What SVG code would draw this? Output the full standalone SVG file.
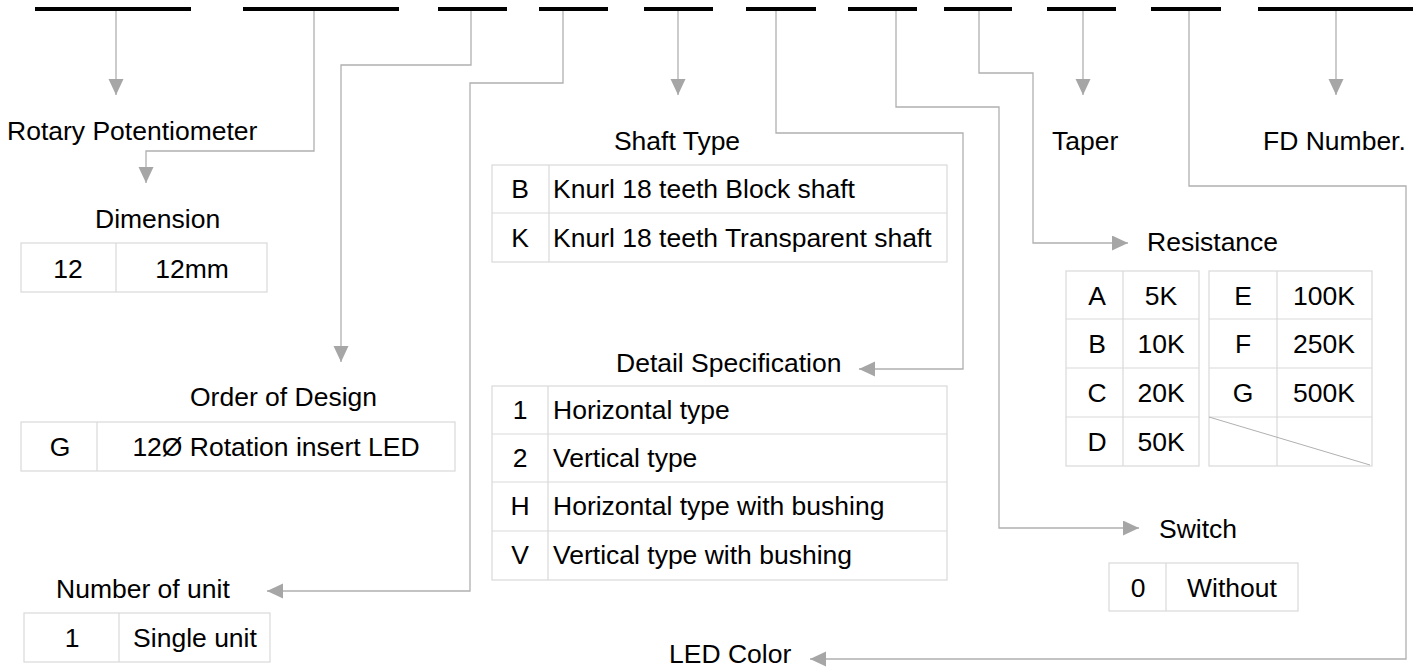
<svg xmlns="http://www.w3.org/2000/svg" width="1418" height="668" viewBox="0 0 1418 668">
<style>
text{font-family:"Liberation Sans",Arial,sans-serif;font-size:26.5px;fill:#000}
.c{text-anchor:middle}
.bar{stroke:#000;stroke-width:4;fill:none}
.cell{fill:none;stroke:#d9d9d9;stroke-width:1.2}
.con{fill:none;stroke:#b0b0b0;stroke-width:1.3}
</style>
<defs>
<marker id="ah" markerUnits="userSpaceOnUse" markerWidth="16" markerHeight="16" refX="16" refY="7.5" orient="auto">
<path d="M0,0 L16,7.5 L0,15 z" fill="#a6a6a6"/>
</marker>
</defs>
<g id="bars">
<line class="bar" x1="35" y1="9" x2="191" y2="9"/>
<line class="bar" x1="243" y1="9" x2="399" y2="9"/>
<line class="bar" x1="438" y1="9" x2="507" y2="9"/>
<line class="bar" x1="539" y1="9" x2="608" y2="9"/>
<line class="bar" x1="644" y1="9" x2="713" y2="9"/>
<line class="bar" x1="746" y1="9" x2="816" y2="9"/>
<line class="bar" x1="848" y1="9" x2="917" y2="9"/>
<line class="bar" x1="944" y1="9" x2="1012" y2="9"/>
<line class="bar" x1="1047" y1="9" x2="1116" y2="9"/>
<line class="bar" x1="1151" y1="9" x2="1221" y2="9"/>
<line class="bar" x1="1258" y1="9" x2="1413" y2="9"/>
</g>
<g id="connectors">
<path class="con" marker-end="url(#ah)" d="M116 11 V95"/>
<path class="con" marker-end="url(#ah)" d="M314 11 V151 H146 V183"/>
<path class="con" marker-end="url(#ah)" d="M471 11 V65 H341 V362"/>
<path class="con" marker-end="url(#ah)" d="M563 11 V83 H470 V591 H267"/>
<path class="con" marker-end="url(#ah)" d="M678 11 V95"/>
<path class="con" marker-end="url(#ah)" d="M776 11 V133 H963 V369 H859"/>
<path class="con" marker-end="url(#ah)" d="M896 11 V107 H999 V528 H1139"/>
<path class="con" marker-end="url(#ah)" d="M979 11 V73 H1033 V243 H1128"/>
<path class="con" marker-end="url(#ah)" d="M1083 11 V95"/>
<path class="con" marker-end="url(#ah)" d="M1189 11 V186 H1406 V659 H810"/>
<path class="con" marker-end="url(#ah)" d="M1336 11 V95"/>
</g>
<g id="rotary">
<text x="7" y="140">Rotary Potentiometer</text>
</g>
<g id="dimension">
<text x="95" y="228">Dimension</text>
<rect class="cell" x="21" y="243" width="246" height="49"/>
<line class="cell" x1="116" y1="243" x2="116" y2="292"/>
<text class="c" x="68" y="278">12</text>
<text class="c" x="192" y="278">12mm</text>
</g>
<g id="order">
<text x="190" y="406">Order of Design</text>
<rect class="cell" x="21" y="422" width="434" height="49"/>
<line class="cell" x1="97" y1="422" x2="97" y2="471"/>
<text class="c" x="60" y="456">G</text>
<text class="c" x="276" y="456">12Ø Rotation insert LED</text>
</g>
<g id="units">
<text x="56" y="598">Number of unit</text>
<rect class="cell" x="24" y="613" width="246" height="49"/>
<line class="cell" x1="119" y1="613" x2="119" y2="662"/>
<text class="c" x="72" y="647">1</text>
<text class="c" x="195" y="647">Single unit</text>
</g>
<g id="shaft">
<text class="c" x="677" y="150">Shaft Type</text>
<rect class="cell" x="492" y="165" width="455" height="97"/>
<line class="cell" x1="492" y1="213" x2="947" y2="213"/>
<line class="cell" x1="549" y1="165" x2="549" y2="262"/>
<text class="c" x="520" y="198">B</text>
<text x="553" y="198">Knurl 18 teeth Block shaft</text>
<text class="c" x="520" y="247">K</text>
<text x="553" y="247">Knurl 18 teeth Transparent shaft</text>
</g>
<g id="detail">
<text x="616" y="372">Detail Specification</text>
<rect class="cell" x="492" y="386" width="455" height="194"/>
<line class="cell" x1="492" y1="434" x2="947" y2="434"/>
<line class="cell" x1="492" y1="482" x2="947" y2="482"/>
<line class="cell" x1="492" y1="531" x2="947" y2="531"/>
<line class="cell" x1="548" y1="386" x2="548" y2="580"/>
<text class="c" x="520" y="419">1</text>
<text x="553" y="419">Horizontal type</text>
<text class="c" x="520" y="467">2</text>
<text x="553" y="467">Vertical type</text>
<text class="c" x="520" y="515">H</text>
<text x="553" y="515">Horizontal type with bushing</text>
<text class="c" x="520" y="564">V</text>
<text x="553" y="564">Vertical type with bushing</text>
</g>
<g id="led">
<text x="669" y="663">LED Color</text>
</g>
<g id="taper">
<text x="1052" y="150">Taper</text>
</g>
<g id="fd">
<text x="1263" y="150">FD Number.</text>
</g>
<g id="resistance">
<text x="1147" y="251">Resistance</text>
<rect class="cell" x="1066" y="271" width="133" height="195"/>
<line class="cell" x1="1066" y1="319" x2="1199" y2="319"/>
<line class="cell" x1="1066" y1="368" x2="1199" y2="368"/>
<line class="cell" x1="1066" y1="417" x2="1199" y2="417"/>
<line class="cell" x1="1123" y1="271" x2="1123" y2="466"/>
<rect class="cell" x="1209" y="271" width="163" height="195"/>
<line class="cell" x1="1209" y1="319" x2="1372" y2="319"/>
<line class="cell" x1="1209" y1="368" x2="1372" y2="368"/>
<line class="cell" x1="1209" y1="417" x2="1372" y2="417"/>
<line class="cell" x1="1277" y1="271" x2="1277" y2="466"/>
<line x1="1209" y1="417" x2="1370" y2="465" stroke="#b0b0b0" stroke-width="1"/>
<text class="c" x="1097" y="305">A</text>
<text class="c" x="1161" y="305">5K</text>
<text class="c" x="1243" y="305">E</text>
<text class="c" x="1324" y="305">100K</text>
<text class="c" x="1097" y="353">B</text>
<text class="c" x="1161" y="353">10K</text>
<text class="c" x="1243" y="353">F</text>
<text class="c" x="1324" y="353">250K</text>
<text class="c" x="1097" y="402">C</text>
<text class="c" x="1161" y="402">20K</text>
<text class="c" x="1243" y="402">G</text>
<text class="c" x="1324" y="402">500K</text>
<text class="c" x="1097" y="451">D</text>
<text class="c" x="1161" y="451">50K</text>
</g>
<g id="switch">
<text x="1159" y="538">Switch</text>
<rect class="cell" x="1109" y="563" width="189" height="48"/>
<line class="cell" x1="1166" y1="563" x2="1166" y2="611"/>
<text class="c" x="1138" y="597">0</text>
<text class="c" x="1232" y="597">Without</text>
</g>
</svg>
